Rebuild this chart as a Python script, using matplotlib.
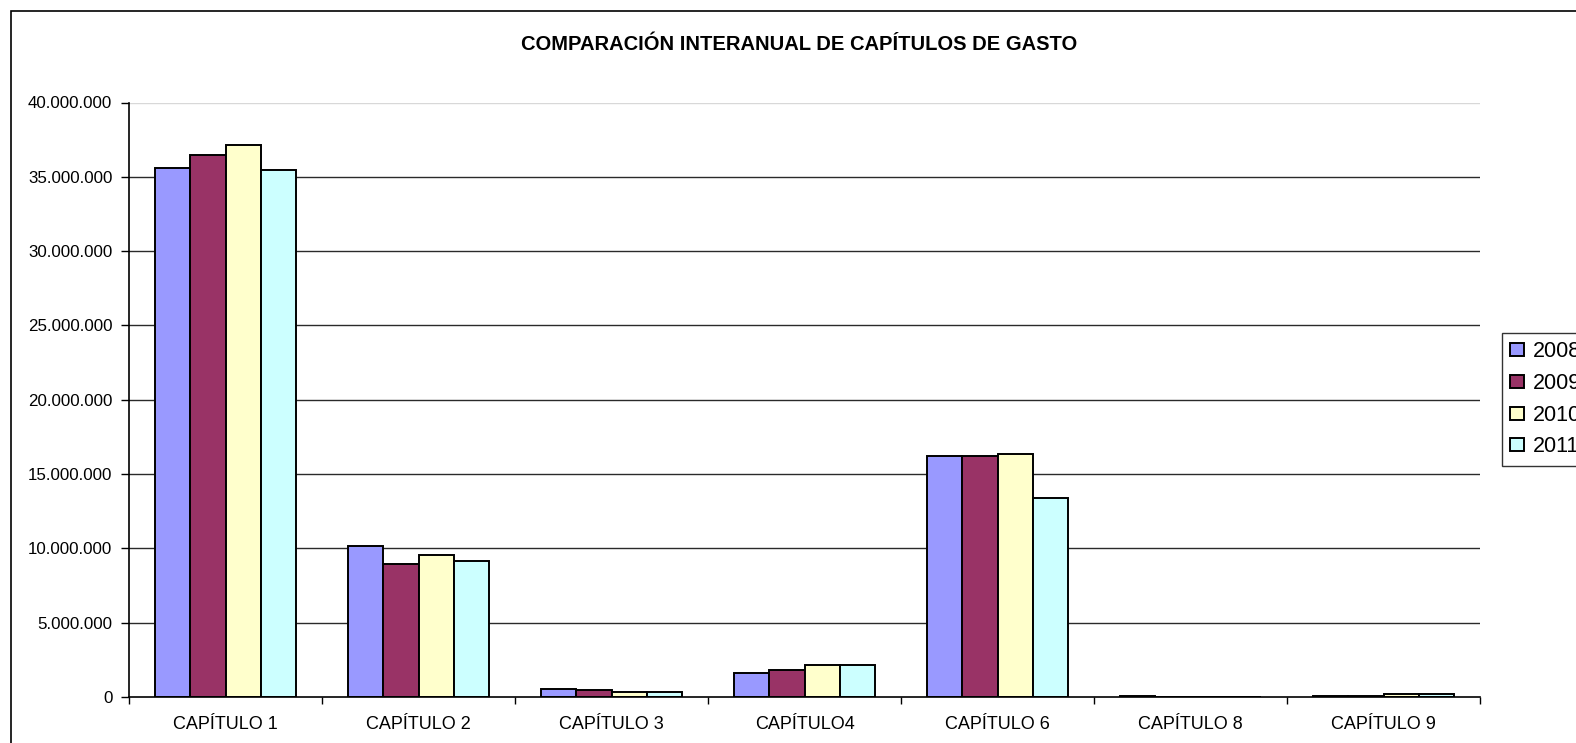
import numpy as np
import matplotlib
matplotlib.use('Agg')
import matplotlib.pyplot as plt
from matplotlib.ticker import FuncFormatter
from matplotlib.patches import Rectangle

plt.rcParams['font.family'] = ['Liberation Sans', 'DejaVu Sans']

capitulos = ['CAPÍTULO 1', 'CAPÍTULO 2', 'CAPÍTULO 3', 'CAPÍTULO4',
             'CAPÍTULO 6', 'CAPÍTULO 8', 'CAPÍTULO 9']
years = ['2008', '2009', '2010', '2011']
v2008 = [35580000, 10130000, 550000, 1630000, 16240000, 80000, 60000]
v2009 = [36460000, 8920000, 440000, 1830000, 16200000, 0, 60000]
v2010 = [37140000, 9570000, 370000, 2130000, 16330000, 0, 180000]
v2011 = [35490000, 9180000, 370000, 2130000, 13400000, 0, 180000]
colors = ['#9999FF', '#993366', '#FFFFCC', '#CCFFFF']

W, H = 1576, 743
fig = plt.figure(figsize=(W / 100, H / 100), dpi=100)
ax = fig.add_axes([129 / W, 1 - 697 / H, (1480 - 129) / W, (697 - 102.5) / H])

# outer chart border (only left/top visible in the crop)
fig.patches.append(Rectangle((10.5 / W, -0.1), 1.2, 1 - 11 / H + 0.1,
                             transform=fig.transFigure, fill=False,
                             edgecolor='black', lw=1.2))

x = np.arange(len(capitulos))
bw = 0.183
series = [v2008, v2009, v2010, v2011]
for i, vals in enumerate(series):
    ax.bar(x + (i - 1.5) * bw, vals, bw, color=colors[i], edgecolor='black',
           lw=1.4, label=years[i], zorder=3)

ax.set_xlim(-0.5, len(capitulos) - 0.5)
ax.set_ylim(0, 40000000)
yt = np.arange(0, 40000001, 5000000)
ax.set_yticks(yt)
ax.yaxis.set_major_formatter(FuncFormatter(lambda v, p: f'{int(v):,}'.replace(',', '.')))
for v in yt[1:-1]:
    ax.axhline(v, color='#2a2a2a', lw=1.0, zorder=1)
ax.axhline(yt[-1], color='#d8d8d8', lw=1.0, zorder=1)

ax.set_xticks(x)
ax.set_xticklabels(capitulos, fontsize=13)
ax.set_xticks(np.arange(-0.5, len(capitulos)), minor=True)
ax.tick_params(axis='x', which='major', length=0, pad=14)
ax.tick_params(axis='x', which='minor', length=5, width=1, direction='out')
ax.tick_params(axis='y', length=6, width=1, labelsize=12.2, pad=6)

for s in ['top', 'right']:
    ax.spines[s].set_visible(False)
for s in ['left', 'bottom']:
    ax.spines[s].set_linewidth(1.2)
    ax.spines[s].set_zorder(4)

fig.text(799 / W, 1 - 44 / H, 'COMPARACIÓN INTERANUAL DE CAPÍTULOS DE GASTO',
         ha='center', va='center', fontsize=14.5, fontweight='bold')

leg = ax.legend(loc='upper left', bbox_to_anchor=(1502 / W, 1 - 333 / H),
                bbox_transform=fig.transFigure, fontsize=15.5, frameon=True,
                fancybox=False, edgecolor='black', handlelength=0.62,
                handleheight=0.55, handletextpad=0.45, borderpad=0.38,
                labelspacing=0.5, borderaxespad=0)
leg.get_frame().set_linewidth(1.0)

fig.savefig('out.png', dpi=100)
